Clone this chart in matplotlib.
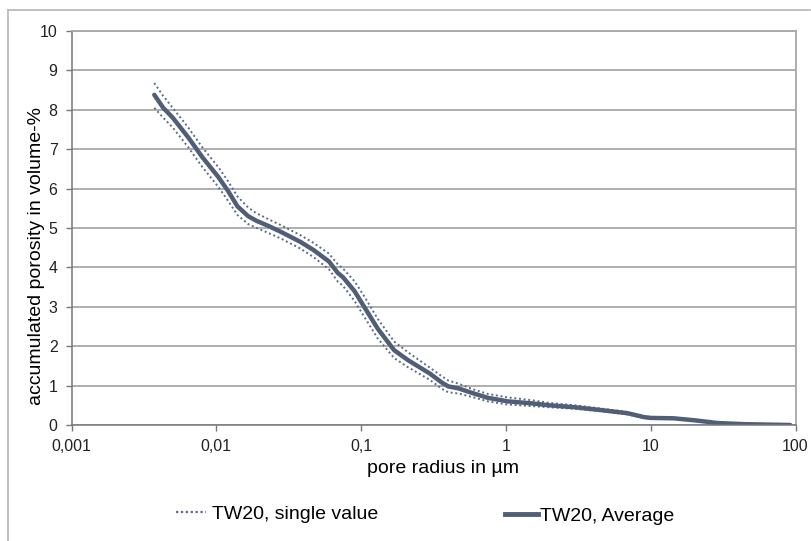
"""Accumulated porosity vs pore radius (TW20)."""
import matplotlib
matplotlib.use("Agg")
import matplotlib.pyplot as plt
from matplotlib.lines import Line2D

plt.rcParams["font.family"] = ["Liberation Sans", "DejaVu Sans"]

# --- data ---
radius = [0.00373, 0.0043, 0.005, 0.0064, 0.008, 0.0103, 0.012, 0.014, 0.0166, 0.019,
          0.023, 0.028, 0.038, 0.047, 0.06, 0.069, 0.075, 0.09, 0.105, 0.13,
          0.169, 0.21, 0.3, 0.36, 0.4, 0.47, 0.6, 0.75, 1.03, 1.5,
          2.0, 3.0, 4.5, 6.9, 9.0, 10.0, 14.4, 20.0, 29.0, 45.0, 92.0]
avg = [8.38, 8.05, 7.8, 7.3, 6.8, 6.3, 5.95, 5.55, 5.3, 5.18,
       5.05, 4.9, 4.65, 4.44, 4.15, 3.86, 3.75, 3.4, 3.0, 2.45,
       1.9, 1.65, 1.3, 1.08, 0.98, 0.93, 0.8, 0.69, 0.6, 0.55,
       0.5, 0.45, 0.38, 0.3, 0.2, 0.18, 0.17, 0.12, 0.05, 0.02, 0.0]
single_hi = [8.68, 8.35, 8.05, 7.55, 7.05, 6.55, 6.2, 5.8, 5.52, 5.37,
             5.22, 5.07, 4.82, 4.62, 4.35, 4.08, 3.97, 3.65, 3.27, 2.7,
             2.12, 1.85, 1.45, 1.24, 1.13, 1.05, 0.9, 0.79, 0.7, 0.63,
             0.56, 0.5, 0.42, 0.33, 0.22, 0.2, 0.18, 0.13, 0.06, 0.03, 0.01]
single_lo = [8.05, 7.8, 7.55, 7.05, 6.55, 6.05, 5.7, 5.33, 5.1, 5.0,
             4.87, 4.73, 4.48, 4.26, 3.95, 3.64, 3.53, 3.15, 2.75, 2.2,
             1.7, 1.47, 1.14, 0.92, 0.83, 0.8, 0.7, 0.6, 0.52, 0.48,
             0.45, 0.41, 0.35, 0.27, 0.18, 0.16, 0.16, 0.11, 0.04, 0.01, 0.0]

xticks = [0.001, 0.01, 0.1, 1, 10, 100]
xtick_labels = ["0,001", "0,01", "0,1", "1", "10", "100"]
yticks = list(range(0, 11))

line_col = "#515E78"
dot_col = "#5A6A88"

W, H = 811, 541
fig = plt.figure(figsize=(W / 100, H / 100), dpi=100)
ax = fig.add_axes([71.5 / W, 1 - 425 / H, (795.5 - 71.5) / W, (425 - 31) / H])

ax.plot(radius, single_hi, color=dot_col, lw=1.4, ls=(0, (1, 1.4)))
ax.plot(radius, single_lo, color=dot_col, lw=1.4, ls=(0, (1, 1.4)))
ax.plot(radius, avg, color=line_col, lw=3.2, solid_capstyle="round",
        solid_joinstyle="round")

ax.set_xscale("log")
ax.set_xlim(0.001, 100)
ax.set_ylim(0, 10)
ax.set_xticks(xticks)
ax.set_xticklabels(xtick_labels)
ax.minorticks_off()
ax.set_yticks(yticks)
ax.yaxis.grid(True, color="#999999", lw=1.1)
ax.set_axisbelow(True)

for s in ["left", "bottom"]:
    ax.spines[s].set_color("#777777")
    ax.spines[s].set_linewidth(1.1)
for s in ["top", "right"]:
    ax.spines[s].set_color("#a8a8a8")
    ax.spines[s].set_linewidth(1.3)
ax.tick_params(axis="both", direction="out", length=4, width=1, color="#777777",
               labelsize=11.5, colors="#222222")
ax.tick_params(axis="y", pad=6)
ax.tick_params(axis="x", pad=6)

ax.set_xlabel("pore radius in µm", fontsize=14)
ax.set_ylabel("accumulated porosity in volume-%", fontsize=14)
ax.xaxis.set_label_coords(0.513, -0.09)
ax.yaxis.set_label_coords(-0.037, 0.43)

# legend entries laid out separately, as in the reference
h_single = Line2D([], [], color=dot_col, lw=1.6, ls=(0, (1, 1.2)))
h_avg = Line2D([], [], color=line_col, lw=3.5)
fig.legend([h_single], ["TW20, single value"], loc="center left",
           bbox_to_anchor=(176 / W, 1 - 514 / H), frameon=False, fontsize=14,
           handlelength=1.55, handletextpad=0.3, borderpad=0, borderaxespad=0)
fig.legend([h_avg], ["TW20, Average"], loc="center left",
           bbox_to_anchor=(505 / W, 1 - 516 / H), frameon=False, fontsize=14,
           handlelength=1.7, handletextpad=0.1, borderpad=0, borderaxespad=0)

# outer frame (only top and left edges visible in the reference)
fig.add_artist(Line2D([8 / W, 8 / W], [0, 1 - 10 / H], color="#b5b5b5", lw=1.2))
fig.add_artist(Line2D([8 / W, 810 / W], [1 - 10 / H, 1 - 10 / H], color="#b5b5b5", lw=1.2))

fig.savefig("out.png", dpi=100)
print("out.png")
